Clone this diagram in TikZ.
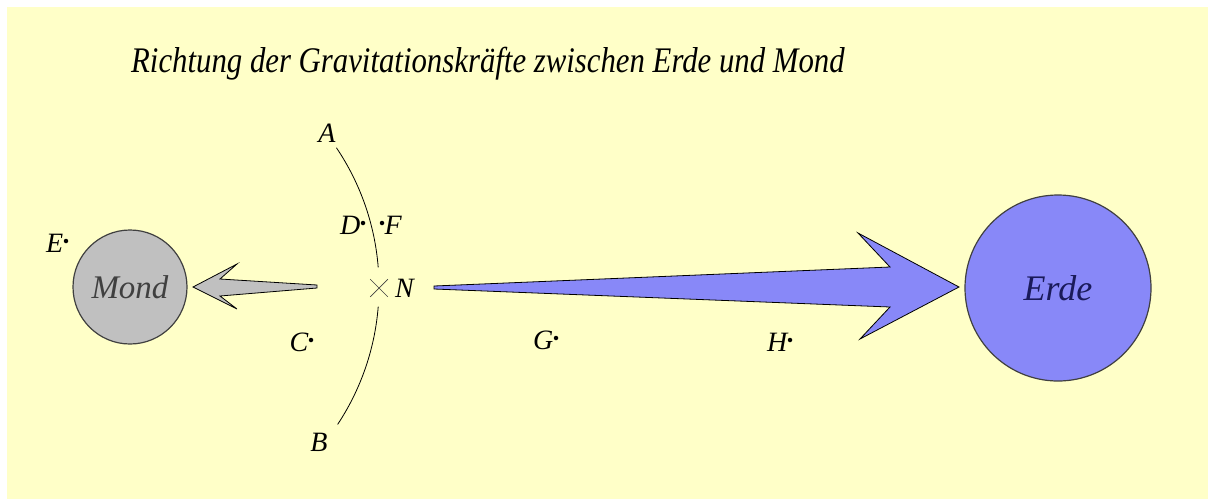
\documentclass[tikz,border=0pt]{standalone}
\usepackage{fontspec}
\setmainfont{Liberation Serif}[ItalicFont={Liberation Serif Italic}]
\usetikzlibrary{positioning,calc,shapes.misc}
\definecolor{bgyellow}{RGB}{255,255,200}
\definecolor{mondgray}{RGB}{192,192,192}
\definecolor{erdeblue}{RGB}{136,136,248}
\definecolor{rimgray}{RGB}{64,64,64}
\definecolor{erdetext}{RGB}{26,26,90}
\tikzset{
  body/.style={circle,draw=rimgray,line width=1.2pt,inner sep=0pt,
    font=\fontsize{33}{36}\selectfont\itshape},
  ptdot/.style={circle,fill=black,inner sep=0pt,minimum size=4.5pt,
    label distance=6pt},
  ptlbl/.style={inner sep=0pt,font=\fontsize{28}{30}\selectfont\itshape,yshift=-2pt},
  plain/.style={inner sep=0pt,font=\fontsize{28}{30}\selectfont\itshape},
  forcearrow/.style={draw=black,line width=0.8pt,line join=miter},
}
\begin{document}
\begin{tikzpicture}[x=1pt,y=-1pt]
\useasboundingbox (0,0) rectangle (1208,499);
\fill[white] (0,0) rectangle (1208,499);
\fill[bgyellow] (7,7) rectangle (1208,499);
\node[anchor=base west,inner sep=0pt,xscale=0.855,transform shape,
  font=\fontsize{36}{40}\selectfont\itshape]
  (title) at (131,72) {Richtung der Gravitationskräfte zwischen Erde und Mond};
\node[body,fill=mondgray,text=rimgray,minimum size=114pt] (mond) at (130,287) {Mond};
\node[body,fill=erdeblue,text=erdetext,minimum size=186pt,
  font=\fontsize{36}{40}\selectfont\itshape] (erde) at (1058,288) {Erde};
\draw[line width=0.8pt] (mond.center) ++(-34:249) arc[start angle=-34,end angle=-4.5,radius=249];
\draw[line width=0.8pt] (mond.center) ++(4.5:249) arc[start angle=4.5,end angle=33.5,radius=249];
\node[plain] (A) at (327,133) {A};
\node[plain] (B) at (319,442) {B};
\node[cross out,draw=rimgray,line width=0.7pt,inner sep=0pt,minimum size=17pt] (N) at (379,288) {};
\node[plain,right=7pt of N] (Nlbl) {N};
\node[ptdot,label={[ptlbl]left:E}] (E) at (66,241) {};
\node[ptdot,label={[ptlbl]left:D}] (D) at (363,223) {};
\node[ptdot,label={[ptlbl]right:F}] (F) at (382,223) {};
\node[ptdot,label={[ptlbl]left:C}] (C) at (311,340) {};
\node[ptdot,label={[ptlbl]left:G}] (G) at (556,338) {};
\node[ptdot,label={[ptlbl]left:H}] (H) at (790,340) {};
\coordinate (gtip) at (193,287);
\coordinate (btip) at (959,287);
\draw[forcearrow,fill=mondgray] (gtip) -- ++(44,-23) -- ++(-17,15) -- ++(97,6)
  -- ++(0,3) -- ++(-97,8) -- ++(17,13) -- cycle;
\draw[forcearrow,fill=erdeblue] (btip) -- ++(-101,-54) -- ++(32,34) -- ++(-456,19)
  -- ++(0,3) -- ++(456,18) -- ++(-30,32) -- cycle;
\end{tikzpicture}
\end{document}
